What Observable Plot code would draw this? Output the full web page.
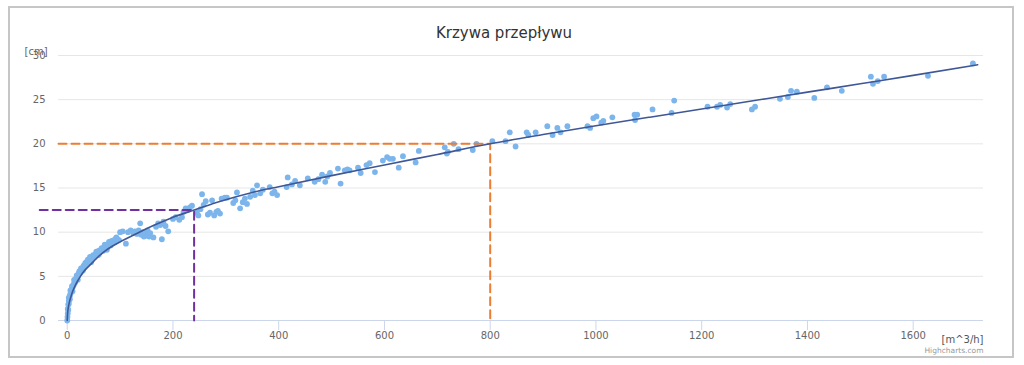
<!DOCTYPE html>
<html>
<head>
<meta charset="utf-8">
<script src="https://cdn.jsdelivr.net/npm/d3@7"></script>
<script src="https://cdn.jsdelivr.net/npm/@observablehq/plot@0.6"></script>
<style>
  html, body { margin: 0; padding: 0; background: #fff; }
  #wrap { position: relative; width: 1024px; height: 365px; overflow: hidden; }
  #frame { position: absolute; left: 8px; top: 6px; width: 1002px; height: 348px; border: 2px solid #c6c6c6; pointer-events: none; }
  #chart { position: absolute; left: 0; top: 0; }
</style>
</head>
<body>
<div id="wrap"><div id="chart"></div><div id="frame"></div></div>
<script>
// Measured points: flow [m^3/h] and level [cm]
const flowX = [
  0,0.5,1,1,2,2,3,3,4,5,5,6,7,8,9,10,10,11,12,13,14,15,16,17,18,20,20,21,22,24,25,27,28,30,30,31,33,35,36,38,40,42,44,45,46,48,50,52,54,56,58,60,60,62,64,66,68,70,72,74,75,76,78,80,82,85,88,90,92,95,98,
  3,6,9,13,18,23,26,34,39,43,49,55,65,71,79,84,93,
  100,105,111,115,120,125,128,132,135,138,140,143,145,148,150,152,155,157,163,168,172,176,179,182,186,191,200,205,212,217,220,224,228,232,236,245,248,252,255,258,262,266,270,274,278,282,285,289,292,298,302,314,318,321,327,332,336,340,346,351,355,
  359,365,370,383,388,392,397,415,417,425,431,440,455,468,475,482,488,492,497,512,517,525,530,534,550,555,566,572,582,597,605,610,616,627,635,659,665,714,718,720,731,740,767,774,804,829,837,848,869,872,886,908,918,927,933,946,984,989,995,1001,1010,1014,1031,1073,1074,1078,1107,1143,1148,1211,1229,1235,1248,1254,1295,1301,1348,1363,1369,1380,1413,1437,1465,1520,1524,1533,1545,1628,1713
];
const levelY = [
  0,0.4,0.8,1.3,1.2,1.8,1.9,2.2,2.5,2.4,2.8,3.0,3.2,3.3,3.6,3.7,3.3,3.9,4.0,4.2,4.4,4.3,4.6,4.8,4.9,5.0,4.6,5.2,5.4,5.5,5.4,5.8,5.6,6.0,5.7,6.2,6.1,6.4,6.6,6.5,6.8,6.7,7.0,6.6,7.1,7.0,7.3,7.2,7.5,7.7,7.4,7.9,7.5,7.8,8.0,8.1,7.9,8.3,8.2,8.5,8.0,8.3,8.6,8.8,8.5,8.9,9.1,8.9,9.3,9.2,9.1,
  2.6,3.4,3.9,4.6,5.1,5.6,5.9,6.5,6.9,7.2,7.4,7.8,8.2,8.6,8.9,9.0,9.4,
  10.0,10.1,8.7,10.0,10.2,9.9,10.1,9.8,10.2,11.0,9.7,10.0,9.5,9.9,9.6,10.2,9.5,9.9,9.4,10.6,11.0,10.8,9.2,11.2,10.7,10.1,11.5,11.7,11.4,11.7,12.3,12.7,12.5,12.8,13.0,12.2,11.9,12.6,14.3,13.1,13.5,12.0,12.2,13.6,11.9,12.3,12.4,12.1,13.8,13.9,13.9,13.3,13.6,14.5,12.7,13.4,13.8,13.2,14.0,14.7,14.2,
  15.3,14.4,14.8,15.1,14.4,14.6,14.2,15.1,16.2,15.4,15.8,15.3,16.1,15.7,16.0,16.5,15.7,16.3,16.7,17.2,15.5,17.0,17.1,17.0,17.3,16.7,17.6,17.8,16.8,18.1,18.5,18.3,18.3,17.3,18.6,17.9,19.2,19.6,18.9,19.1,20.0,19.4,19.3,20.0,20.3,20.3,21.3,19.7,21.3,21.0,21.3,22.0,21.0,21.8,21.3,22.0,22.0,21.8,22.9,23.1,22.4,22.6,23.0,23.3,22.7,23.3,23.9,23.5,24.9,24.2,24.2,24.4,24.1,24.5,23.9,24.2,25.1,25.3,26.0,25.9,25.2,26.4,26.0,27.6,26.8,27.1,27.6,27.7,29.1
];
// Fitted curve
const fitX = [0,1,2,4,7,10,15,20,25,32,40,50,60,70,85,100,120,140,165,200,240,290,350,400,500,600,700,800,900,1000,1100,1200,1300,1400,1500,1600,1722];
const fitY = [0,1.0,1.45,2.05,2.7,3.25,3.95,4.5,5.0,5.6,6.1,6.7,7.3,7.8,8.4,8.9,9.5,10.1,10.8,11.7,12.5,13.5,14.5,15.15,16.4,17.6,18.8,20.0,21.05,22.05,23.0,23.95,24.9,25.85,26.8,27.75,28.95];
// Reference read-offs
const purpleX = [-52, 240, 240];
const purpleY = [12.5, 12.5, 0];
const orangeX = [-16.5, 800, 800];
const orangeY = [20, 20, 0];
// Axes
const xTicks = [0, 200, 400, 600, 800, 1000, 1200, 1400, 1600];
const yTicks = [0, 5, 10, 15, 20, 25, 30];
const titleText = "Krzywa przepływu";
const yTitle = "[cm]";
const xTitle = "[m^3/h]";
const credit = "Highcharts.com";

const pts = flowX.map((x, i) => ({x, y: levelY[i]}));
const fit = fitX.map((x, i) => ({x, y: fitY[i]}));
const purple = purpleX.map((x, i) => ({x, y: purpleY[i]}));
const orange = orangeX.map((x, i) => ({x, y: orangeY[i]}));

const ML = 58, MT = 55;
const chart = Plot.plot({
  width: 1024,
  height: 365,
  marginLeft: ML,
  marginRight: 41,
  marginTop: MT,
  marginBottom: 45,
  style: {fontFamily: "DejaVu Sans", fontSize: "10px", background: "transparent", overflow: "visible"},
  x: {domain: [-16.5, 1733]},
  y: {domain: [0, 30]},
  marks: [
    Plot.gridY(yTicks, {stroke: "#e6e6e6", strokeOpacity: 1}),
    Plot.axisY(yTicks, {tickSize: 0, tickPadding: 13, fill: "#666", fontSize: 10, label: null, tickFormat: d => String(d)}),
    Plot.ruleY([0], {stroke: "#ccd6eb"}),
    Plot.axisX(xTicks, {tickSize: 10, tickPadding: 1, stroke: "#ccd6eb", fill: "#666", fontSize: 10, label: null, tickFormat: d => String(d)}),
    Plot.dot(pts, {x: "x", y: "y", r: 2.9, fill: "#7cb5ec"}),
    Plot.line(purple, {x: "x", y: "y", stroke: "#7030a0", strokeWidth: 2, strokeDasharray: "8,5"}),
    Plot.line(orange, {x: "x", y: "y", stroke: "#ed7d31", strokeWidth: 2, strokeDasharray: "8,5"}),
    Plot.line(fit, {x: "x", y: "y", stroke: "#3f5796", strokeWidth: 1.6, curve: "monotone-x"}),
    Plot.text([titleText], {frameAnchor: "top-left", dx: 503.5 - ML, dy: 37 - MT, lineAnchor: "bottom", textAnchor: "middle", fontSize: 15, fill: "#333"}),
    Plot.text([yTitle], {frameAnchor: "top-left", dx: 24 - ML, dy: 54 - MT, lineAnchor: "bottom", textAnchor: "start", fontSize: 10, fill: "#666"}),
    Plot.text([xTitle], {frameAnchor: "top-left", dx: 983 - ML, dy: 342 - MT, lineAnchor: "bottom", textAnchor: "end", fontSize: 10, fill: "#555"}),
    Plot.text([credit], {frameAnchor: "top-left", dx: 983 - ML, dy: 352 - MT, lineAnchor: "bottom", textAnchor: "end", fontSize: 7.5, fill: "#999"})
  ]
});
document.getElementById("chart").appendChild(chart);
</script>
</body>
</html>
